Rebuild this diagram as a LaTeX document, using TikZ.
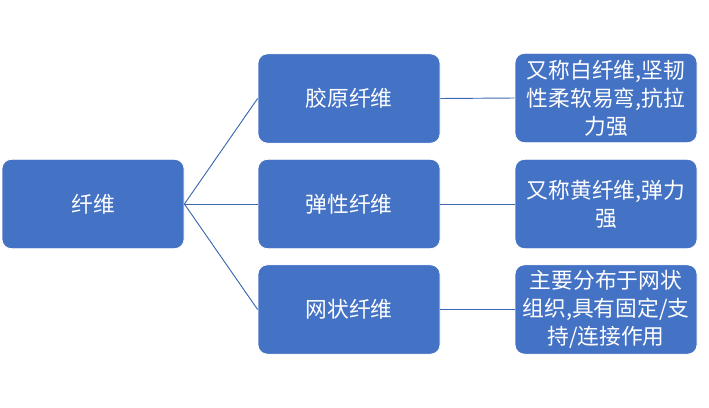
\documentclass[tikz,border=0pt]{standalone}
\usepackage{fontspec}
\setmainfont{Noto Sans CJK SC}
\definecolor{boxblue}{HTML}{4472C4}
\tikzset{
  fbox/.style={draw=white, line width=0.6pt, fill=boxblue, rounded corners=7pt, minimum width=136.5pt, minimum height=67pt, align=center, text=white, font=\fontsize{16.3}{21}\selectfont, inner sep=2pt},
  link/.style={draw=boxblue!90!black, line width=0.7pt}
}
\begin{document}
\begin{tikzpicture}[x=0.75pt,y=-0.75pt]
        \useasboundingbox (0,0) rectangle (709,407);
        \node[fbox] (fiber) at (93,204) {纤维};
        \node[fbox] (collagen) at (349,98.5) {胶原纤维};
        \node[fbox] (elastic) at (349,204) {弹性纤维};
        \node[fbox] (reticular) at (349,309.5) {网状纤维};
        \node[fbox] (collagenNote) at (606,98) {又称白纤维,坚韧\\性柔软易弯,抗拉\\力强};
        \node[fbox] (elasticNote) at (606,204) {又称黄纤维,弹力\\强};
        \node[fbox] (reticularNote) at (606,309.5) {主要分布于网状\\组织,具有固定/支\\持/连接作用};
        \draw[link] (fiber.east) -- (collagen.west);
        \draw[link] (fiber.east) -- (elastic.west);
        \draw[link] (fiber.east) -- (reticular.west);
        \draw[link] (collagen.east) -- (collagenNote.west);
        \draw[link] (elastic.east) -- (elasticNote.west);
        \draw[link] (reticular.east) -- (reticularNote.west);
        \end{tikzpicture}
\end{document}
